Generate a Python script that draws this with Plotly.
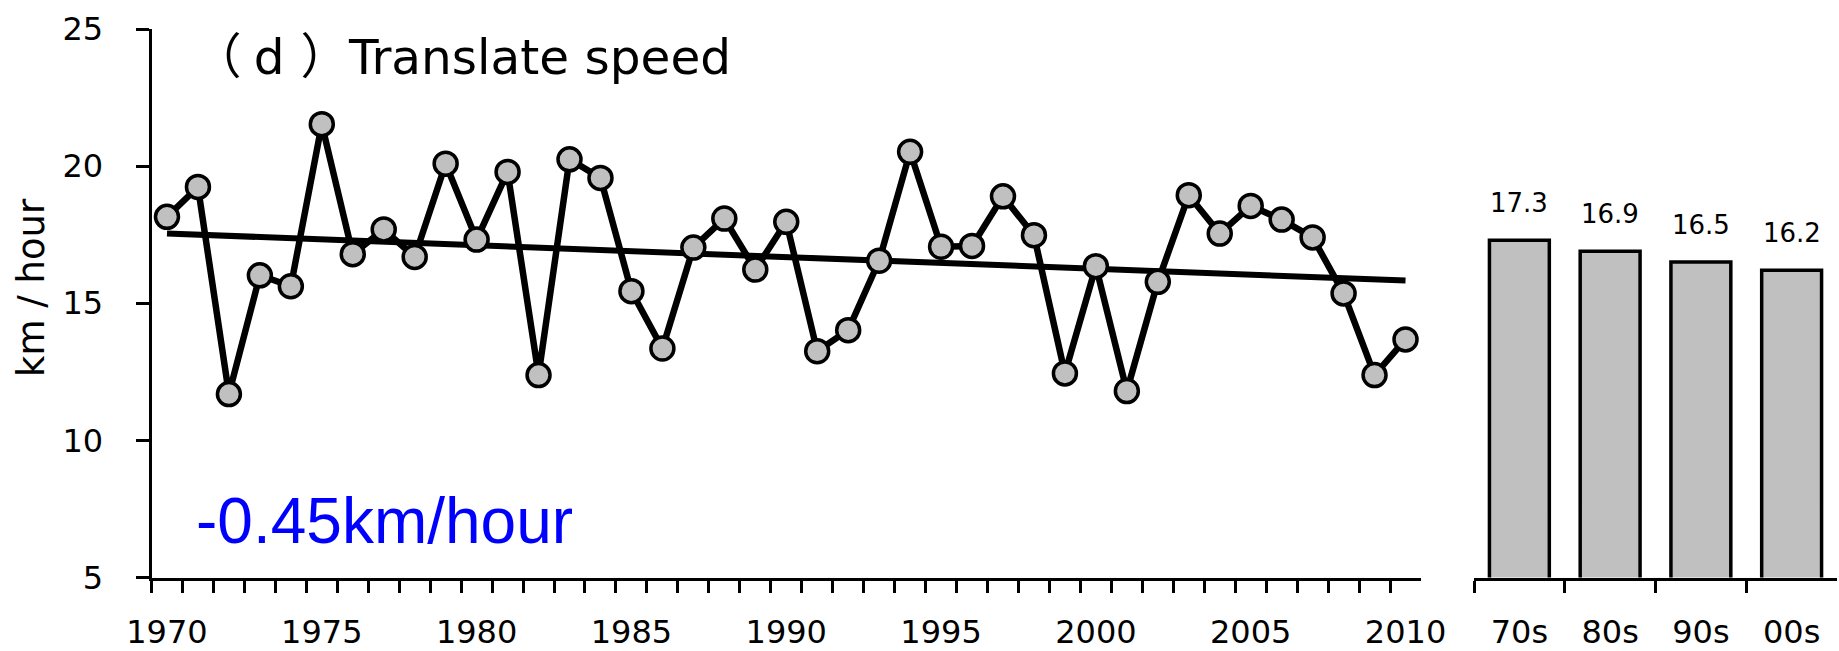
import numpy as np
import plotly.graph_objects as go

# Annual mean translation speed (km/hour), 1970-2010
years = list(range(1970, 2011))
speed = [18.15, 19.24, 11.69, 16.02, 15.62, 21.53, 16.79, 17.69, 16.69, 20.09,
         17.32, 19.79, 12.38, 20.25, 19.57, 15.44, 13.35, 17.03, 18.09, 16.23,
         17.97, 13.25, 14.02, 16.55, 20.52, 17.06, 17.09, 18.90, 17.48, 12.44,
         16.35, 11.80, 15.78, 18.94, 17.54, 18.55, 18.05, 17.40, 15.36, 12.38,
         13.68]

# Decadal means
decades = ["70s", "80s", "90s", "00s"]
decade_mean = [17.3, 16.9, 16.5, 16.2]

year_labels = [str(y) if y % 5 == 0 else "" for y in years]
y_ticks = [5, 10, 15, 20, 25]
trend_label = "-0.45km/hour"

W, H = 1839, 651
FONT = "DejaVu Sans, Noto Sans CJK SC, sans-serif"
GREY = "#c0c0c0"

# least-squares linear trend
slope, intercept = np.polyfit(years, speed, 1)
trend = [slope * y + intercept for y in years]

fig = go.Figure()

fig.add_trace(go.Scatter(
    x=years, y=trend, mode="lines",
    line=dict(color="black", width=6),
    xaxis="x", yaxis="y", showlegend=False, hoverinfo="skip",
))
fig.add_trace(go.Scatter(
    x=years, y=speed, mode="lines+markers",
    line=dict(color="black", width=6.5),
    marker=dict(size=23, color=GREY, line=dict(color="black", width=3.5)),
    xaxis="x", yaxis="y", showlegend=False,
))
fig.add_trace(go.Bar(
    x=decades, y=decade_mean, width=0.66,
    marker=dict(color=GREY, line=dict(color="black", width=3.5)),
    xaxis="x2", yaxis="y2", showlegend=False,
))

for d, v in zip(decades, decade_mean):
    fig.add_annotation(
        x=d, y=v, xref="x2", yref="y2", text=f"{v:.1f}",
        showarrow=False, yanchor="bottom", yshift=20,
        font=dict(family=FONT, size=26, color="black"),
    )

px = lambda v: v / W
py = lambda v: 1 - v / H

fig.add_annotation(
    x=px(733), y=py(57), xref="paper", yref="paper",
    text="（\u2005d\u2004）Translate speed", showarrow=False,
    xanchor="right", yanchor="middle",
    font=dict(family=FONT, size=48.5, color="black"),
)
fig.add_annotation(
    x=px(194), y=py(521), xref="paper", yref="paper",
    text=trend_label, showarrow=False,
    xanchor="left", yanchor="middle",
    font=dict(family="Liberation Sans, Arial, sans-serif", size=64, color="#0000ff"),
)
fig.add_annotation(
    x=px(31), y=py(288), xref="paper", yref="paper",
    text="km / hour", showarrow=False, textangle=-90,
    xanchor="center", yanchor="middle",
    font=dict(family=FONT, size=37, color="black"),
)

axis_common = dict(
    showline=True, linecolor="black", linewidth=3,
    ticks="outside", tickcolor="black", tickwidth=3,
    showgrid=False, zeroline=False, automargin=False,
    tickfont=dict(family=FONT, size=32, color="black"),
)

fig.update_layout(
    width=W, height=H,
    margin=dict(l=0, r=0, t=0, b=0),
    paper_bgcolor="white", plot_bgcolor="white",
    xaxis=dict(
        domain=[px(151.5), px(1421)], anchor="y",
        type="category", range=[-0.5, 40.5],
        tickmode="array", tickvals=years, ticktext=year_labels,
        tickson="boundaries", ticklen=12, tickangle=0,
        ticklabelstandoff=24,
        **axis_common,
    ),
    yaxis=dict(
        domain=[1 - 577.5 / H, 1 - 29 / H], anchor="x",
        range=[5, 25], tickmode="array", tickvals=y_ticks,
        ticklen=13, ticklabelstandoff=26,
        **axis_common,
    ),
    xaxis2=dict(
        domain=[px(1474), px(1837)], anchor="y2",
        type="category", range=[-0.5, 3.5],
        tickson="boundaries", ticklen=12, tickangle=0,
        ticklabelstandoff=24,
        **axis_common,
    ),
    yaxis2=dict(
        domain=[1 - 577.5 / H, 1 - 29 / H], anchor="x2",
        range=[5, 25], visible=False,
    ),
    bargap=0.34,
)

fig.write_html("out.html")
